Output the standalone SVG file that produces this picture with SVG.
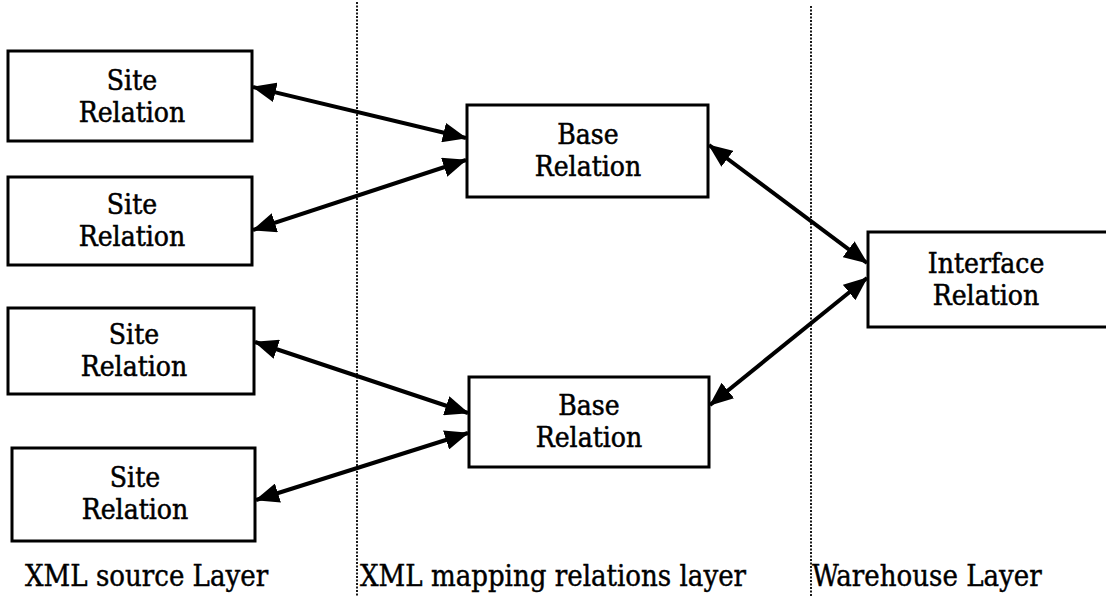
<svg xmlns="http://www.w3.org/2000/svg" width="1106" height="607" viewBox="0 0 1106 607">
  <style>
    .box { fill: #fff; stroke: #000; stroke-width: 3; }
    .lbl { font-family: 'DejaVu Serif Condensed', 'DejaVu Serif', serif; font-stretch: condensed; font-size: 28px; fill: #000; stroke: #000; stroke-width: 0.5; text-anchor: middle; }
    .layer { font-family: 'DejaVu Serif Condensed', 'DejaVu Serif', serif; font-stretch: condensed; font-size: 29px; fill: #000; stroke: #000; stroke-width: 0.4; }
    .sep { stroke: #000; stroke-width: 1.8; stroke-dasharray: 2 1.5; fill: none; }
    .conn { stroke: #000; stroke-width: 4; fill: none; }
  </style>
  <defs>
    <marker id="head" viewBox="0 0 24 20" refX="23" refY="10" markerWidth="24" markerHeight="20" markerUnits="userSpaceOnUse" orient="auto-start-reverse">
      <path d="M0,0 L24,10 L0,20 Z" fill="#000"/>
    </marker>
  </defs>
  <rect width="1106" height="607" fill="#fff"/>

  <!-- layer separators -->
  <g id="separators">
    <line class="sep" x1="357" y1="2" x2="357" y2="597"/>
    <line class="sep" x1="811" y1="6" x2="811" y2="597"/>
  </g>

  <!-- connectors: double-headed arrows -->
  <g id="connectors">
    <line class="conn" marker-start="url(#head)" marker-end="url(#head)" x1="253" y1="87" x2="466" y2="138"/>
    <line class="conn" marker-start="url(#head)" marker-end="url(#head)" x1="466" y1="160" x2="253" y2="230"/>
    <line class="conn" marker-start="url(#head)" marker-end="url(#head)" x1="709" y1="145" x2="867" y2="263"/>
    <line class="conn" marker-start="url(#head)" marker-end="url(#head)" x1="867" y1="278" x2="710" y2="405"/>
    <line class="conn" marker-start="url(#head)" marker-end="url(#head)" x1="255" y1="342" x2="468" y2="413"/>
    <line class="conn" marker-start="url(#head)" marker-end="url(#head)" x1="468" y1="433" x2="256" y2="500"/>
  </g>

  <g id="site1">
    <rect class="box" x="8" y="51" width="244" height="90"/>
    <text class="lbl" x="132" y="90">Site</text>
    <text class="lbl" x="132" y="122">Relation</text>
  </g>
  <g id="site2">
    <rect class="box" x="8" y="177" width="244" height="88"/>
    <text class="lbl" x="132" y="214">Site</text>
    <text class="lbl" x="132" y="246">Relation</text>
  </g>
  <g id="site3">
    <rect class="box" x="8" y="308" width="246" height="86"/>
    <text class="lbl" x="134" y="344">Site</text>
    <text class="lbl" x="134" y="376">Relation</text>
  </g>
  <g id="site4">
    <rect class="box" x="12" y="448" width="243" height="93"/>
    <text class="lbl" x="135" y="487">Site</text>
    <text class="lbl" x="135" y="519">Relation</text>
  </g>

  <g id="base1">
    <rect class="box" x="467" y="105" width="241" height="92"/>
    <text class="lbl" x="588" y="144">Base</text>
    <text class="lbl" x="588" y="176">Relation</text>
  </g>
  <g id="base2">
    <rect class="box" x="469" y="377" width="240" height="90"/>
    <text class="lbl" x="589" y="415">Base</text>
    <text class="lbl" x="589" y="447">Relation</text>
  </g>

  <g id="interface">
    <rect class="box" x="868" y="232" width="240" height="95"/>
    <text class="lbl" x="986" y="273">Interface</text>
    <text class="lbl" x="986" y="305">Relation</text>
  </g>

  <g id="layer-labels">
    <text class="layer" x="25" y="586">XML source Layer</text>
    <text class="layer" x="360" y="586">XML mapping relations layer</text>
    <text class="layer" x="812" y="586">Warehouse Layer</text>
  </g>
</svg>
